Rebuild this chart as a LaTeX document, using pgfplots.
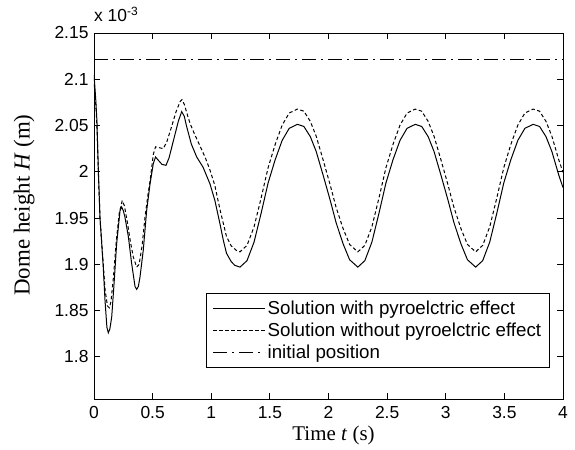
\documentclass[border=0pt]{standalone}
\usepackage{fontspec}
\setmainfont{Liberation Sans}
\newfontfamily\serifm{Liberation Serif}
\usepackage{pgfplots}
\pgfplotsset{compat=1.18}
\begin{document}
\begin{tikzpicture}
\begin{axis}[
  name=ax,
  scale only axis, width=469bp, height=366bp,
  xmin=0, xmax=4, ymin=1.7545, ymax=2.15,
  axis line style={line width=0.9bp},
  tick style={line width=0.8bp, black},
  major tick length=6bp, tick align=inside,
  xtick={0,0.5,1,1.5,2,2.5,3,3.5,4},
  ytick={1.8,1.85,1.9,1.95,2,2.05,2.1,2.15},
  scaled ticks=false,
  /pgf/number format/assume math mode=true,
  ticklabel style={font=\fontsize{17.5}{20}\selectfont},
  xticklabel style={yshift=-3.5bp},
  yticklabel style={xshift=-2bp},
  every axis x label/.style={at={(axis description cs:0.5107,-0.101)}, anchor=center, font=\fontsize{21}{25}\selectfont},
  every axis y label/.style={at={(axis description cs:-0.149,0.53)}, rotate=90, anchor=center, font=\fontsize{23}{27}\selectfont},
  xlabel={\serifm Time \textit{t} (s)},
  ylabel={\serifm Dome height \textit{H} (m)},
  legend style={at={(rel axis cs:0.9723,0.2896)}, anchor=north east, draw=black, line width=0.8bp,
    font=\fontsize{18.8}{22}\selectfont, nodes={inner ysep=3.5bp}, inner xsep=6.5bp, inner ysep=4bp},
  legend cell align=left,
  legend image code/.code={\draw[#1] (0bp,0bp) -- (52bp,0bp);},
  clip=true,
]
\addplot[black, line width=1bp] coordinates {
(0,2.105) (0.014,2.08) (0.025,2.055) (0.037,2.002) (0.051,1.951) (0.079,1.897) (0.094,1.861)
(0.110,1.832) (0.122,1.826) (0.135,1.830) (0.151,1.843) (0.171,1.879) (0.193,1.922) (0.222,1.958)
(0.236,1.962) (0.250,1.958) (0.264,1.951) (0.293,1.930) (0.321,1.901) (0.350,1.876) (0.364,1.873)
(0.378,1.876) (0.392,1.886) (0.420,1.915) (0.449,1.958) (0.478,1.987) (0.506,2.009) (0.525,2.016)
(0.545,2.013) (0.580,2.008) (0.614,2.007) (0.64,2.015) (0.68,2.035) (0.72,2.055) (0.748,2.065)
(0.77,2.060) (0.79,2.049) (0.83,2.030) (0.876,2.016) (0.93,2.005) (0.989,1.987) (1.031,1.969)
(1.074,1.944) (1.103,1.926) (1.13,1.912) (1.17,1.903) (1.20,1.899)
(1.245,1.897) (1.305,1.904) (1.365,1.924) (1.425,1.955) (1.485,1.988) (1.545,2.013) (1.605,2.034)
(1.665,2.047) (1.735,2.0513) (1.790,2.049) (1.845,2.038) (1.895,2.022) (1.955,1.996) (2.015,1.969)
(2.065,1.945) (2.125,1.922) (2.180,1.905)
(2.250,1.897) (2.310,1.904) (2.370,1.924) (2.430,1.955) (2.490,1.988) (2.550,2.013) (2.610,2.034)
(2.670,2.047) (2.740,2.0513) (2.795,2.049) (2.850,2.038) (2.900,2.022) (2.960,1.996) (3.020,1.969)
(3.070,1.945) (3.130,1.922) (3.185,1.905)
(3.255,1.897) (3.315,1.904) (3.375,1.924) (3.435,1.955) (3.495,1.988) (3.555,2.013) (3.615,2.034)
(3.675,2.047) (3.745,2.0513) (3.800,2.049) (3.855,2.038) (3.905,2.022) (3.965,1.996) (4.000,1.983)
};
\addlegendentry{Solution with pyroelctric effect}
\addplot[black, line width=1bp, dash pattern=on 3.5bp off 2.5bp] coordinates {
(0,2.095) (0.014,2.075) (0.025,2.05) (0.037,2.00) (0.051,1.95) (0.079,1.90) (0.095,1.872)
(0.115,1.855) (0.131,1.853) (0.145,1.86) (0.165,1.885) (0.19,1.925) (0.215,1.955) (0.241,1.969)
(0.26,1.963) (0.285,1.945) (0.31,1.925) (0.335,1.908) (0.364,1.897) (0.385,1.900) (0.41,1.920)
(0.435,1.951) (0.46,1.975) (0.478,1.990) (0.506,2.019) (0.525,2.027) (0.56,2.026) (0.59,2.025)
(0.62,2.032) (0.66,2.048) (0.70,2.065) (0.735,2.076) (0.75,2.078) (0.77,2.073) (0.80,2.060)
(0.82,2.052) (0.86,2.040) (0.904,2.028) (0.95,2.015) (0.989,2.002) (1.031,1.985) (1.075,1.959)
(1.13,1.930) (1.17,1.920) (1.215,1.915)
(1.245,1.9135) (1.305,1.9205) (1.365,1.9405) (1.425,1.9715) (1.485,2.0045) (1.545,2.0295) (1.605,2.0505)
(1.665,2.0635) (1.735,2.0678) (1.790,2.0655) (1.845,2.0545) (1.895,2.0385) (1.955,2.0125) (2.015,1.9855)
(2.065,1.9615) (2.125,1.9385) (2.180,1.9215)
(2.250,1.9135) (2.310,1.9205) (2.370,1.9405) (2.430,1.9715) (2.490,2.0045) (2.550,2.0295) (2.610,2.0505)
(2.670,2.0635) (2.740,2.0678) (2.795,2.0655) (2.850,2.0545) (2.900,2.0385) (2.960,2.0125) (3.020,1.9855)
(3.070,1.9615) (3.130,1.9385) (3.185,1.9215)
(3.255,1.9135) (3.315,1.9205) (3.375,1.9405) (3.435,1.9715) (3.495,2.0045) (3.555,2.0295) (3.615,2.0505)
(3.675,2.0635) (3.745,2.0678) (3.800,2.0655) (3.855,2.0545) (3.905,2.0385) (3.965,2.0125) (4.000,1.9995)
};
\addlegendentry{Solution without pyroelctric effect}
\addplot[black, line width=1bp, dash pattern=on 14bp off 5bp on 2bp off 5bp] coordinates {
(0,2.1216) (4,2.1216)
};
\addlegendentry{initial position}
\coordinate (sw) at (rel axis cs:0,0);
\coordinate (ne) at (rel axis cs:1,1);
\end{axis}
\node[anchor=base west, font=\fontsize{17.5}{20}\selectfont, inner sep=0pt] at ([yshift=11bp]ne -| sw) {x 10\raisebox{6.5bp}{\fontsize{12}{14}\selectfont -3}};
\path ([shift={(-94bp,-51bp)}]sw) rectangle ([shift={(12bp,33bp)}]ne);
\end{tikzpicture}
\end{document}
